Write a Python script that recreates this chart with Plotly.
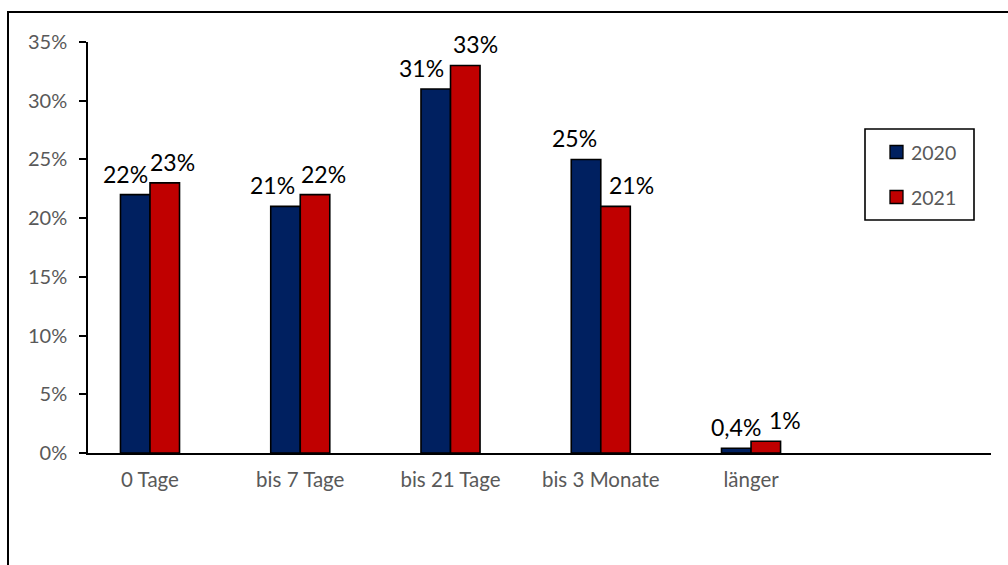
import plotly.graph_objects as go

# Duration categories and shares (percent) per year
categories = ["0 Tage", "bis 7 Tage", "bis 21 Tage", "bis 3 Monate", "länger"]
years = ["2020", "2021"]
share_2020 = [22, 21, 31, 25, 0.4]
share_2021 = [23, 22, 33, 21, 1]
y_ticks = [0, 5, 10, 15, 20, 25, 30, 35]
y_tick_text = [f"{t}%" for t in y_ticks]

# Styling
colors = {"2020": "#002060", "2021": "#C00000"}
FONT = "Lato, 'Open Sans', sans-serif"
GREY = "#595959"
W, H = 1008, 565
ML, MR, MT, MB = 88, 17, 42, 112
PW, PH = W - ML - MR, H - MT - MB

# horizontal nudges of the value labels so neighbouring labels do not collide
label_dx = {"2020": [-10, -13, -14, -11, 0], "2021": [7, 8, 10, 16, 19]}


def px_x(x):
    return (x - ML) / PW


def px_y(y):
    return 1 - (y - MT) / PH


def fmt(v):
    return f"{v:g}%".replace(".", ",")


series = {"2020": share_2020, "2021": share_2021}

fig = go.Figure()
for yr in years:
    fig.add_trace(go.Bar(
        x=categories, y=series[yr], name=yr,
        marker=dict(color=colors[yr], line=dict(color="black", width=1.6)),
        showlegend=False,
    ))

annotations = []
for yr in years:
    for cat, v, dx in zip(categories, series[yr], label_dx[yr]):
        annotations.append(dict(
            x=cat, y=v, xref="x", yref="y", text=fmt(v), showarrow=False,
            xanchor="center", yanchor="bottom", xshift=dx + (-15 if yr == "2020" else 15), yshift=5,
            font=dict(family=FONT, size=23, color="black"),
        ))

# legend drawn as a framed box with swatches
shapes = []
leg_x0, leg_x1, leg_y0, leg_y1 = 865, 974, 129, 220
shapes.append(dict(type="rect", xref="paper", yref="paper",
                   x0=px_x(leg_x0), x1=px_x(leg_x1), y0=px_y(leg_y1), y1=px_y(leg_y0),
                   line=dict(color="black", width=1.6), fillcolor="white", layer="above"))
for yr, cy in zip(years, [152, 197]):
    shapes.append(dict(type="rect", xref="paper", yref="paper",
                       x0=px_x(890), x1=px_x(903), y0=px_y(cy + 6.5), y1=px_y(cy - 6.5),
                       line=dict(color="black", width=1.3), fillcolor=colors[yr], layer="above"))
    annotations.append(dict(x=px_x(909), y=px_y(cy), xref="paper", yref="paper",
                            text=yr, showarrow=False, xanchor="left", yanchor="middle",
                            font=dict(family=FONT, size=19.5, color=GREY)))

# outer chart frame (runs off the right and bottom edges)
shapes.append(dict(type="rect", xref="paper", yref="paper",
                   x0=px_x(8), x1=px_x(W + 10), y0=px_y(H + 10), y1=px_y(12),
                   line=dict(color="black", width=2), fillcolor="rgba(0,0,0,0)", layer="below"))

fig.update_layout(
    width=W, height=H,
    margin=dict(l=ML, r=MR, t=MT, b=MB),
    paper_bgcolor="white", plot_bgcolor="white",
    barmode="group", bargap=0.607, bargroupgap=0,
    font=dict(family=FONT, size=20, color=GREY),
    annotations=annotations, shapes=shapes,
    showlegend=False,
)
fig.update_xaxes(
    type="category", range=[-0.4126, 5.597],
    showline=True, linecolor="black", linewidth=1.6,
    ticks="", showgrid=False, zeroline=False,
    tickfont=dict(family=FONT, size=20.5, color=GREY),
    ticklabelstandoff=8,
)
fig.update_yaxes(
    range=[0, 35], tickvals=y_ticks, ticktext=y_tick_text,
    showline=True, linecolor="black", linewidth=1.6,
    ticks="outside", ticklen=7, tickwidth=1.6, tickcolor="black",
    showgrid=False, zeroline=False,
    tickfont=dict(family=FONT, size=20, color=GREY),
    ticklabelstandoff=8,
)

fig.write_html("out.html")
